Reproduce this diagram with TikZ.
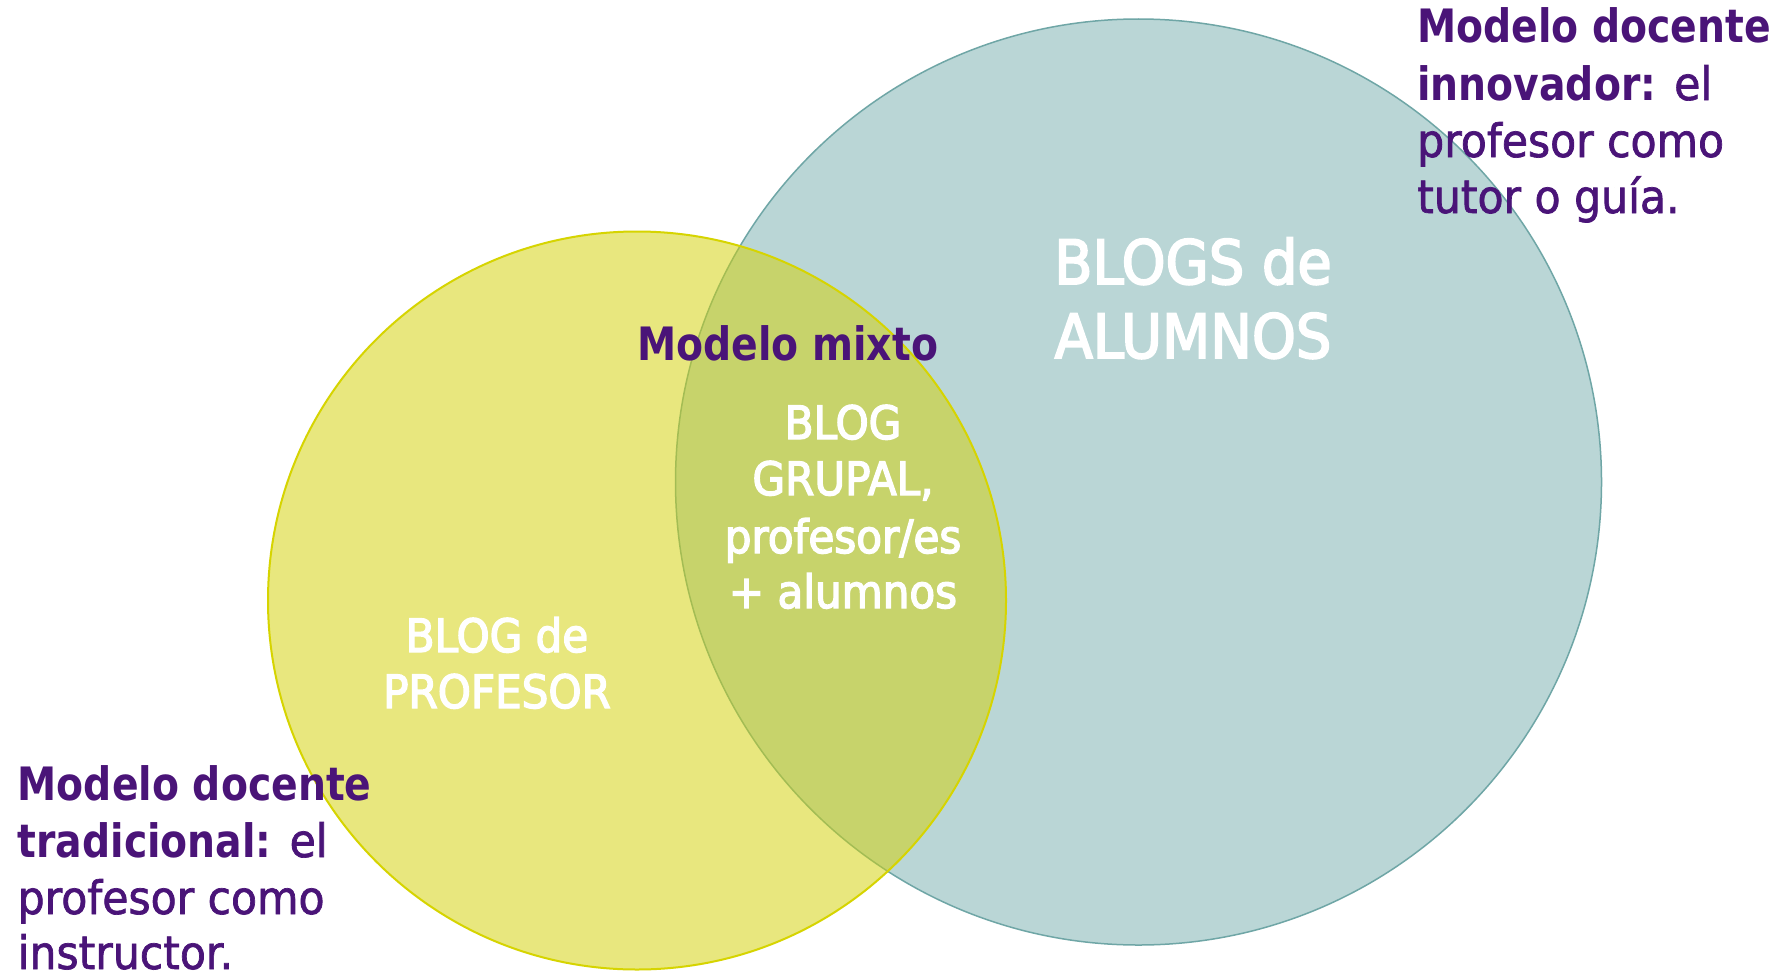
\documentclass[tikz,border=0pt]{standalone}
\usepackage{fontspec}
\newfontfamily\regf[FakeStretch=0.925,FakeBold=1.5]{DejaVu Sans}
\newfontfamily\whitef[FakeStretch=0.915,FakeBold=3]{DejaVu Sans}
\newfontfamily\boldf[FakeStretch=0.855]{DejaVu Sans}
\definecolor{tealfill}{RGB}{186,214,214}
\definecolor{tealline}{RGB}{111,166,166}
\definecolor{yelfill}{RGB}{212,210,9}
\definecolor{yelline}{RGB}{214,212,0}
\definecolor{purp}{RGB}{74,20,120}
\tikzset{
  big/.style={font=\regf\fontsize{46}{56}\selectfont, inner sep=0pt},
  lab/.style={big, text=purp, anchor=base west},
  wtxt/.style={font=\whitef\fontsize{46}{56}\selectfont, inner sep=0pt, text=white, anchor=base},
  wbig/.style={font=\whitef\fontsize{61}{74}\selectfont, inner sep=0pt, text=white, anchor=base},
}
\newcommand{\bt}[1]{{\boldf\bfseries #1}}
\begin{document}
\begin{tikzpicture}[x=1pt,y=-1pt]
\useasboundingbox (0,0) rectangle (1787,974);
\fill[white] (0,0) rectangle (1787,974);
% circles
\draw[tealline, line width=1.5pt, fill=tealfill] (1138.5,482) circle[radius=463];
\draw[yelline, line width=2pt, fill=yelfill, fill opacity=0.52] (637,600.5) circle[radius=369];
% white labels
\node[wbig] (al1) at (1193,284) {BLOGS de};
\node[wbig] (al2) at (1193,358) {ALUMNOS};
\node[wtxt] (gr1) at (843,439) {BLOG};
\node[wtxt] (gr2) at (843,495) {GRUPAL,};
\node[wtxt] (gr3) at (843,553) {profesor/es};
\node[wtxt] (gr4) at (843,608) {+ alumnos};
\node[wtxt] (pr1) at (497,652) {BLOG de};
\node[wtxt] (pr2) at (497,708) {PROFESOR};
% purple labels
\node[lab] (mx) at (637,360) {\bt{Modelo mixto}};
\node[lab] (in1) at (1417,43) {\bt{Modelo docente}};
\node[lab] (in2) at (1417,100) {\bt{innovador:} el};
\node[lab] (in3) at (1417,157) {profesor como};
\node[lab] (in4) at (1417,213) {tutor o guía.};
\node[lab] (tr1) at (17.5,800) {\bt{Modelo docente}};
\node[lab] (tr2) at (17.5,857) {\bt{tradicional:} el};
\node[lab] (tr3) at (17.5,914) {profesor como};
\node[lab] (tr4) at (17.5,969) {instructor.};
\end{tikzpicture}
\end{document}
